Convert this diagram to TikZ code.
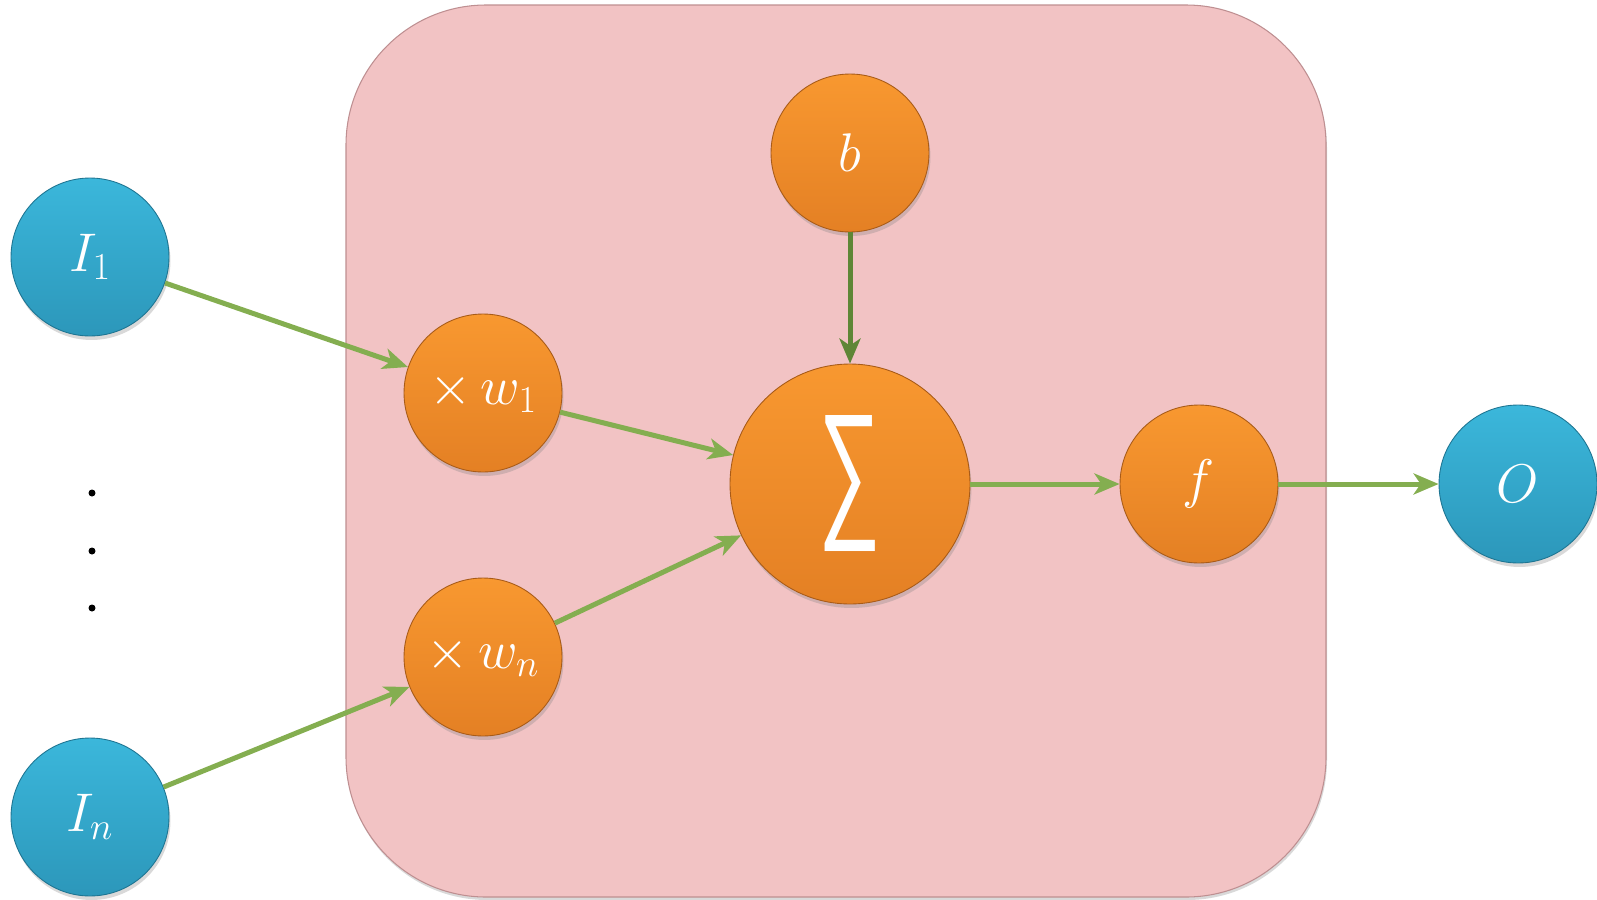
\RequirePackage{fix-cm}
\documentclass[tikz,border=0pt]{standalone}
\usepackage{fontspec}
\usepackage{graphicx}
\usepackage{tikz}
\usetikzlibrary{arrows.meta,positioning,shadows}
\newfontfamily\sumfont{Liberation Sans}
\definecolor{inblue}{HTML}{3BB7DB}
\definecolor{inbluedark}{HTML}{2C97BA}
\definecolor{inblueedge}{HTML}{1E7592}
\definecolor{oporange}{HTML}{F89830}
\definecolor{oporangedark}{HTML}{E48024}
\definecolor{oporangeedge}{HTML}{A85B18}
\definecolor{cellpink}{HTML}{F2C3C4}
\definecolor{celledge}{HTML}{BE8F91}
\definecolor{linkgreen}{HTML}{84AE50}
\definecolor{linkdark}{HTML}{5F8636}
\tikzset{
  ball/.style={circle,minimum size=3.16cm,inner sep=0pt,line width=0.5pt,
    top color=#1,bottom color=#1dark,draw=#1edge,text=white,
    font=\fontsize{31}{34}\selectfont,
    drop shadow={shadow xshift=0.03cm,shadow yshift=-0.08cm,opacity=0.3}},
  ball/.default={oporange},
  cell/.style={rounded corners=2.8cm,fill=cellpink,draw=celledge,line width=0.6pt,
    drop shadow={shadow xshift=0.02cm,shadow yshift=-0.06cm,opacity=0.3}},
  link/.style={-{Stealth[length=0.5cm,width=0.42cm,inset=0.14cm,fill=linkgreen]},
    line width=0.1cm,draw=linkgreen,#1},
  link/.default={},
}
\begin{document}
\begin{tikzpicture}[x=0.02cm,y=-0.02cm]
  \useasboundingbox (0,0) rectangle (1597,900);
  % neuron body
  \draw[cell] (346,5) rectangle (1326,897);
  % inputs and output
  \node[ball=inblue] (in1) at (90,257) {$I_1$};
  \node[ball=inblue] (inn) at (90,817) {$I_n$};
  \node[ball=inblue] (out) at (1518,484) {$O$};
  \foreach \y in {493,551,608}
    \fill (92,\y) circle (3.5);
  % inner units
  \node[ball] (bias) at (850,153) {$b$};
  \node[ball] (w1) at (483,393) {$\times\, w_1$};
  \node[ball] (wn) at (483,657) {$\times\, w_n$};
  \node[ball,minimum size=4.8cm] (sum) at (850,484) {\resizebox{1.25cm}{2.08cm}{\sumfont ∑}};
  \node[ball] (act) at (1199,484) {$f$};
  \draw[link] (in1) -- (w1);
  \draw[link] (inn) -- (wn);
  \draw[link] (w1) -- (sum);
  \draw[link] (wn) -- (sum);
  \draw[link=linkdark] (bias) -- (sum);
  \draw[link] (sum) -- (act);
  \draw[link] (act) -- (out);
\end{tikzpicture}
\end{document}
